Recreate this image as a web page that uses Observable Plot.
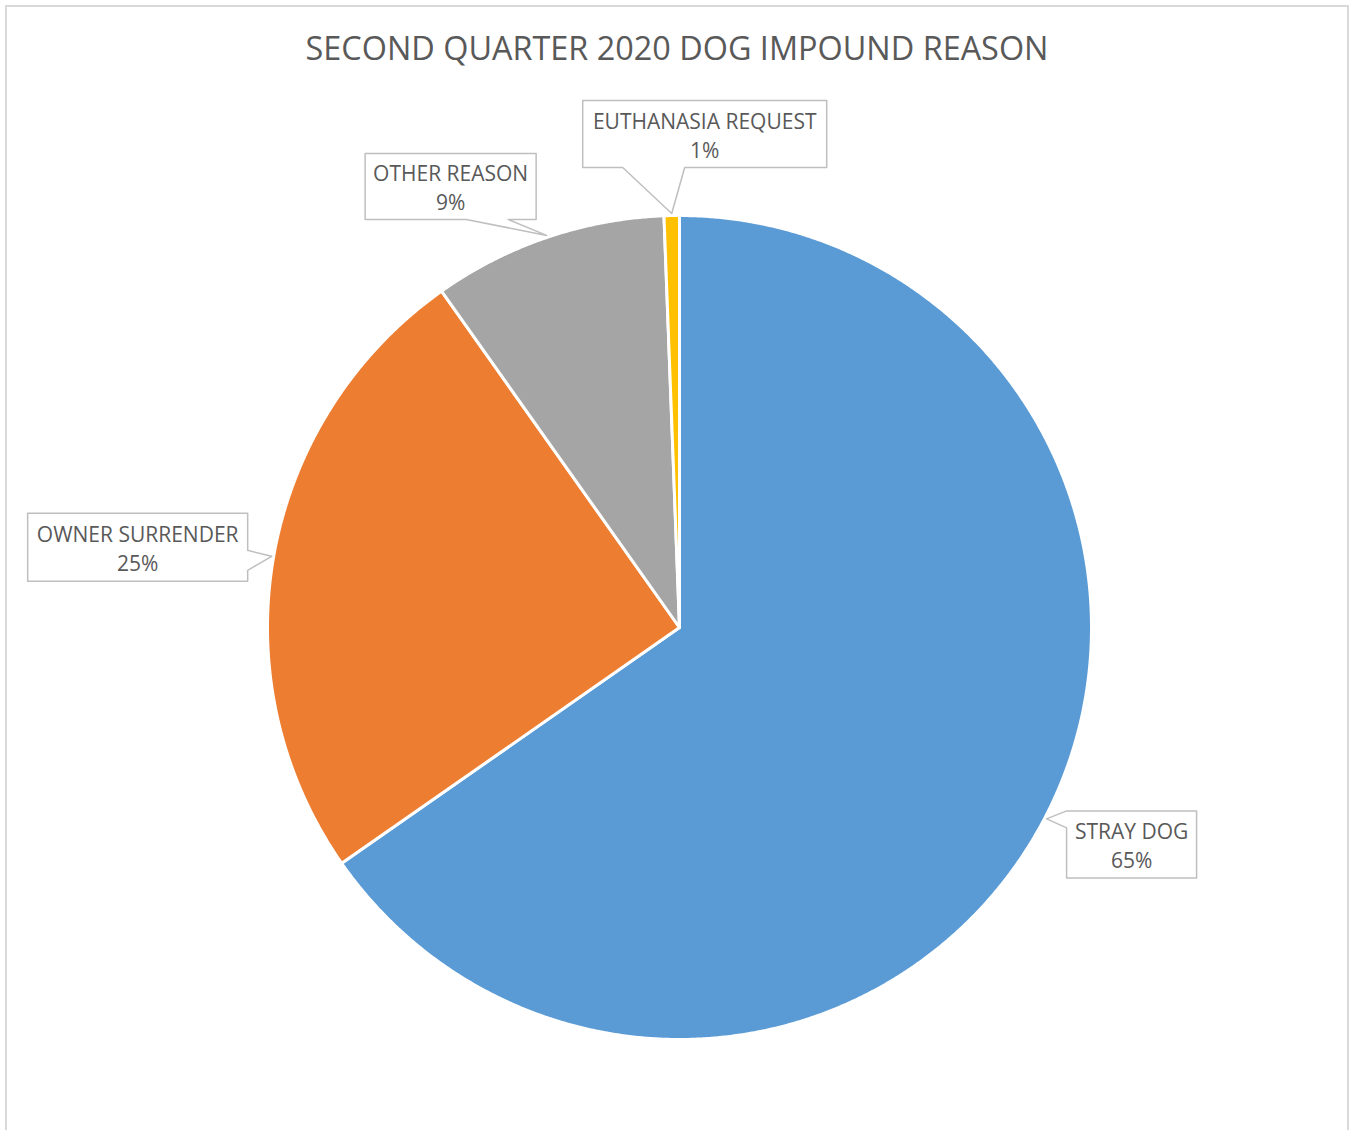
<!DOCTYPE html>
<html>
<head>
<meta charset="utf-8">
<script src="https://cdn.jsdelivr.net/npm/d3@7"></script>
<script src="https://cdn.jsdelivr.net/npm/@observablehq/plot@0.6"></script>
<style>
  html, body { margin: 0; padding: 0; background: #fff; }
  #wrap { position: relative; width: 1353px; height: 1130px; overflow: hidden; }
  #frame { position: absolute; left: 5px; top: 5px; width: 1344px; height: 1200px;
           border: 2px solid #D9D9D9; box-sizing: border-box; pointer-events: none; }
  #chart { position: absolute; left: 0; top: 0; }
</style>
</head>
<body>
<div id="wrap"><div id="chart"></div><div id="frame"></div></div>
<script>
// ---- data ----
const title = "SECOND QUARTER 2020 DOG IMPOUND REASON";
const categories = ["STRAY DOG", "OWNER SURRENDER", "OTHER REASON", "EUTHANASIA REQUEST"];
const shares = [65.3, 24.9, 9.2, 0.6];
const sliceColors = ["#5B9BD5", "#ED7D31", "#A5A5A5", "#FFC000"];

// ---- layout (pixels, relative to pie) ----
const W = 1353, H = 1130;
const cx = 679, cy = 627, R = 412;
const tipR = 414;
// callout box: center offset from slice tip, size, wedge edge and base range along that edge
const calloutOffset = [[85, 25.5], [-134, -9], [-96, -49], [33, -79.5]];
const calloutSize = [[130, 67], [220, 68], [171, 66], [244, 67]];
const wedgeEdge = ["left", "right", "bottom", "bottom"];
const wedgeBase = [[0, 17], [37, 57], [101, 143], [40, 102]];

const arcs = d3.pie().sort(null).value(d => d)(shares);

// slice polygons
const slicePts = [];
arcs.forEach((a, i) => {
  slicePts.push({name: categories[i], x: 0, y: 0});
  const n = Math.max(4, Math.ceil((a.endAngle - a.startAngle) / 0.005));
  for (let k = 0; k <= n; k++) {
    const t = a.startAngle + (a.endAngle - a.startAngle) * k / n;
    slicePts.push({name: categories[i], x: R * Math.sin(t), y: -R * Math.cos(t)});
  }
});

// callouts
const calloutPts = [];
const labels = [];
arcs.forEach((a, i) => {
  const m = (a.startAngle + a.endAngle) / 2;
  const tip = [tipR * Math.sin(m), -tipR * Math.cos(m)];
  const c = [tip[0] + calloutOffset[i][0], tip[1] + calloutOffset[i][1]];
  const [w, h] = calloutSize[i];
  const x0 = c[0] - w / 2, x1 = c[0] + w / 2, y0 = c[1] - h / 2, y1 = c[1] + h / 2;
  const [b0, b1] = wedgeBase[i];
  const e = wedgeEdge[i];
  let pts = [[x0, y0]];
  if (e === "top") pts.push([x0 + b0, y0], tip, [x0 + b1, y0]);
  pts.push([x1, y0]);
  if (e === "right") pts.push([x1, y0 + b0], tip, [x1, y0 + b1]);
  pts.push([x1, y1]);
  if (e === "bottom") pts.push([x0 + b1, y1], tip, [x0 + b0, y1]);
  pts.push([x0, y1]);
  if (e === "left") pts.push([x0, y0 + b1], tip, [x0, y0 + b0]);
  pts.forEach(p => calloutPts.push({name: categories[i], x: p[0], y: p[1]}));
  labels.push({x: c[0], y: c[1], text: categories[i] + "\n" + Math.round(shares[i]) + "%"});
});

const font = "'Open Sans', sans-serif";

const chart = Plot.plot({
  width: W, height: H,
  margin: 0,
  x: {domain: [-cx, W - cx], axis: null},
  y: {domain: [H - cy, -cy], axis: null},
  color: {domain: categories, range: sliceColors},
  style: {fontFamily: font, background: "transparent"},
  marks: [
    Plot.line(slicePts, {x: "x", y: "y", z: "name", fill: "name", stroke: "white",
      strokeWidth: 3, strokeLinejoin: "round", curve: "linear-closed"}),
    Plot.line(calloutPts, {x: "x", y: "y", z: "name", fill: "white", stroke: "#BFBFBF",
      strokeWidth: 1.5, curve: "linear-closed"}),
    Plot.text(labels, {x: "x", y: "y", text: "text", fill: "#595959", fontSize: 21,
      lineHeight: 1.38, fontFamily: font}),
    Plot.text([title], {frameAnchor: "top", dy: 49, lineAnchor: "middle", text: d => d,
      fill: "#595959", fontSize: 32.4, fontFamily: font})
  ]
});
document.getElementById("chart").appendChild(chart);
</script>
</body>
</html>
